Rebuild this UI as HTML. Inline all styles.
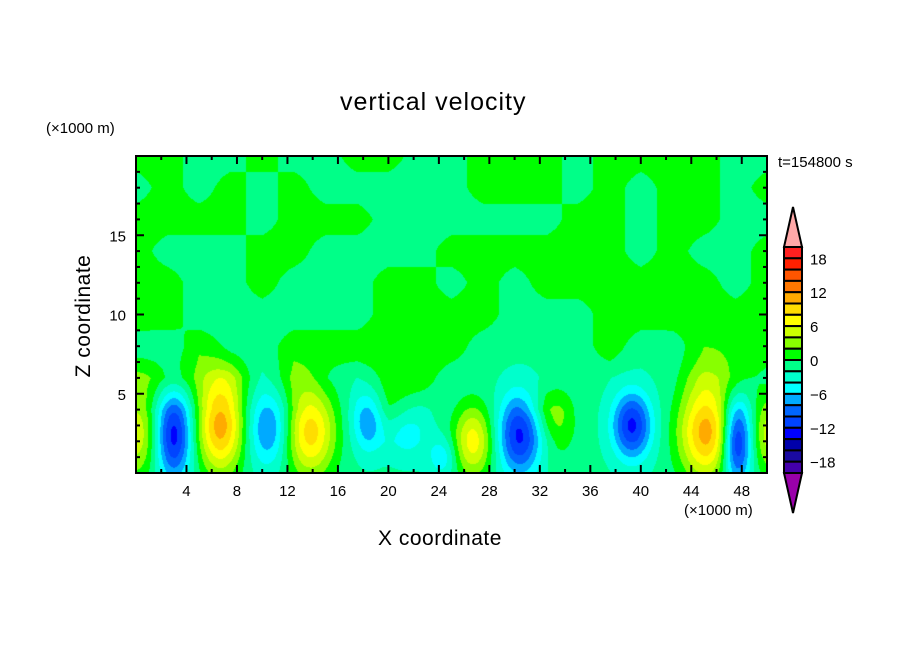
<!DOCTYPE html>
<html><head><meta charset="utf-8">
<style>
html,body{margin:0;padding:0;background:#fff;width:904px;height:654px;overflow:hidden}
#wrap{position:relative;width:904px;height:654px;font-family:"Liberation Sans",sans-serif;color:#000}
.t{position:absolute;white-space:nowrap}
canvas{position:absolute;left:136px;top:156px}
svg{position:absolute;left:0;top:0}
</style></head><body>
<div id="wrap">
<canvas id="cv" width="631" height="317"></canvas>
<svg id="sv" width="904" height="654"></svg>
<div class="t" style="left:340px;top:88px;font-size:25px;letter-spacing:1px">vertical velocity</div>
<div class="t" style="left:46px;top:120px;font-size:15px">(×1000 m)</div>
<div class="t" style="left:778px;top:154px;font-size:15px">t=154800 s</div>
<div class="t" style="left:684px;top:502px;font-size:15px">(×1000 m)</div>
<div class="t" style="left:378px;top:527px;font-size:21px;letter-spacing:0.5px">X coordinate</div>
<div class="t" style="left:84px;top:316px;font-size:21px;letter-spacing:0.5px;transform:translate(-50%,-50%) rotate(-90deg)">Z coordinate</div>
</div>
<script>
// background grid (x every 2.5 km from 0..50, rows z = 20,18,...,0)
const gridX=[0,2.5,5,7.5,10,12.5,15,17.5,20,22.5,25,27.5,30,32.5,35,37.5,40,42.5,45,47.5,50];
const gridZ=[20,18,16,14,12,10,8,6,4,2,0];
const gridRows=[
"GGMMGMMGGMMGGGMGGGGMM",
"MGMGMGMMMMMGGGMGMGGMG",
"GGGGMGGGMMMMMMGGMGGMM",
"GMMMGGMMMMGGGGGGMGMMG",
"GGMMGMMMGGMGMGGGGGGMG",
"GGMMMMMMGGGGMMMGGGGGG",
"MMGMMGGGGGGMMMMGMMGGG",
"GGGGMGMMGGMMMMMMMMGGM",
"MMMMMMMMGMMMMGMMMMMMM",
"MMMMMMMMMMMMMMMMMMMMM",
"MMMMMMMMMMMMMMMMMMMMM"];
// updraft/downdraft cores
const blobX=[0,3.0,6.7,10.5,13.8,18.4,21.5,24.3,26.7,30.4,33.5,39.3,45.2,47.6,50.2];
const blobZ=[2.5,2.4,3.0,2.8,2.6,3.3,2.5,1.0,2.0,2.4,3.0,3.0,2.6,2.0,2.5];
const blobAmp=[7,-11.5,12.5,-7,10.5,-6.5,-3.5,-4,8.5,-11,3,-11,12.5,-12.5,6.5];
const blobSx=[1.2,1.0,1.3,1.2,1.4,0.9,1.2,0.8,1.1,1.2,1.0,1.1,1.5,0.8,0.9];
const blobSz=[2.0,2.0,2.1,1.7,2.0,1.4,1.2,0.9,1.6,1.8,1.5,1.5,2.1,1.9,1.8];
const levels=[-20,-18,-16,-14,-12,-10,-8,-6,-4,-2,0,2,4,6,8,10,12,14,16,18,20];
const colors=["#9900aa","#4400aa","#1a0aa0","#0000aa","#0000ff","#0044ff","#0066ff","#00aaff","#00ffff","#00ffcc","#00ff88","#00ff00","#88ff00","#ccff00","#ffff00","#ffdd00","#ffaa00","#ff7700","#ff5500","#ff2000","#ff2020","#ffa8a8"];
const xTicks=[4,8,12,16,20,24,28,32,36,40,44,48];
const yTicks=[5,10,15];

const X0=136,X1=767,Y0=473,Y1=156,XMAX=50,ZMAX=20;
const sx=v=>X0+(v/XMAX)*(X1-X0);
const sy=v=>Y0-(v/ZMAX)*(Y0-Y1);

function gval(x,z){
  let fi=x/2.5; let i=Math.min(Math.floor(fi),gridX.length-2); let fx=fi-i;
  let r; for(r=0;r<gridZ.length-1;r++){ if(z<=gridZ[r]&&z>=gridZ[r+1]) break; }
  if(r>=gridZ.length-1) r=gridZ.length-2;
  const fz=(gridZ[r]-z)/(gridZ[r]-gridZ[r+1]);
  const v=(rr,c)=>gridRows[rr][c]==="G"?1:-1;
  const a=v(r,i)*(1-fx)+v(r,i+1)*fx, b=v(r+1,i)*(1-fx)+v(r+1,i+1)*fx;
  return a*(1-fz)+b*fz;
}
function field(x,z){
  let s=gval(x,z)*1.5;
  for(let k=0;k<blobX.length;k++){
    const dx=(x-blobX[k])/blobSx[k], dz=(z-blobZ[k])/blobSz[k];
    s+=blobAmp[k]*Math.exp(-0.5*(dx*dx+dz*dz));
  }
  return s;
}
function hex(c){return [parseInt(c.substr(1,2),16),parseInt(c.substr(3,2),16),parseInt(c.substr(5,2),16)];}
const rgb=colors.map(hex);
function colIdx(v){let i=0;while(i<levels.length&&v>=levels[i])i++;return i;}
const cv=document.getElementById('cv');const ctx=cv.getContext('2d');
const W=cv.width,H=cv.height;const img=ctx.createImageData(W,H);
for(let py=0;py<H;py++){for(let px=0;px<W;px++){
  const x=(px+0.5)/W*XMAX, z=(H-py-0.5)/H*ZMAX;
  const c=rgb[colIdx(field(x,z))];const o=(py*W+px)*4;
  img.data[o]=c[0];img.data[o+1]=c[1];img.data[o+2]=c[2];img.data[o+3]=255;}}
ctx.putImageData(img,0,0);

const NS="http://www.w3.org/2000/svg";const sv=document.getElementById('sv');
function el(t,a){const e=document.createElementNS(NS,t);for(const k in a)e.setAttribute(k,a[k]);sv.appendChild(e);return e;}
let e;
e=el('rect',{x:X0,y:Y1,width:X1-X0,height:Y0-Y1,fill:'none',stroke:'#000','stroke-width':2});


for(let v=2;v<XMAX;v+=2){const maj=v%4===0;const L=maj?8:4;
  e=el('line',{x1:sx(v),x2:sx(v),y1:Y0,y2:Y0-L,stroke:'#000','stroke-width':2});
  
  
  e=el('line',{x1:sx(v),x2:sx(v),y1:Y1,y2:Y1+L,stroke:'#000','stroke-width':2});
  
  }
for(let v=1;v<ZMAX;v++){const maj=v%5===0;const L=maj?8:4;
  e=el('line',{x1:X0,x2:X0+L,y1:sy(v),y2:sy(v),stroke:'#000','stroke-width':2});
  
  
  e=el('line',{x1:X1,x2:X1-L,y1:sy(v),y2:sy(v),stroke:'#000','stroke-width':2});
  
  }
xTicks.forEach(v=>{e=el('text',{x:sx(v),y:496,'font-size':15,'text-anchor':'middle','font-family':'Liberation Sans, sans-serif'});e.textContent=v;
  
  });
yTicks.forEach(v=>{e=el('text',{x:126,y:sy(v)+6,'font-size':15,'text-anchor':'end','font-family':'Liberation Sans, sans-serif'});e.textContent=v;
  
  });
// colorbar
const CBX=784,CBW=18,CBT=247,CBB=473;const bh=(CBB-CBT)/20;
for(let k=0;k<20;k++){
  e=el('rect',{x:CBX,y:CBT+k*bh,width:CBW,height:bh,fill:colors[20-k],stroke:'#000','stroke-width':2});
  
  }
e=el('polygon',{points:`${CBX},${CBT} ${CBX+CBW},${CBT} ${CBX+CBW/2},${CBT-40}`,fill:colors[21],stroke:'#000','stroke-width':2});


e=el('polygon',{points:`${CBX},${CBB} ${CBX+CBW},${CBB} ${CBX+CBW/2},${CBB+40}`,fill:colors[0],stroke:'#000','stroke-width':2});


[18,12,6,0,-6,-12,-18].forEach(v=>{const y=CBT+(20-v)/2*bh;
  e=el('text',{x:810,y:y+6,'font-size':15,'font-family':'Liberation Sans, sans-serif'});e.textContent=(v<0?'\u2212'+(-v):v);
  
  });
</script>
</body></html>
